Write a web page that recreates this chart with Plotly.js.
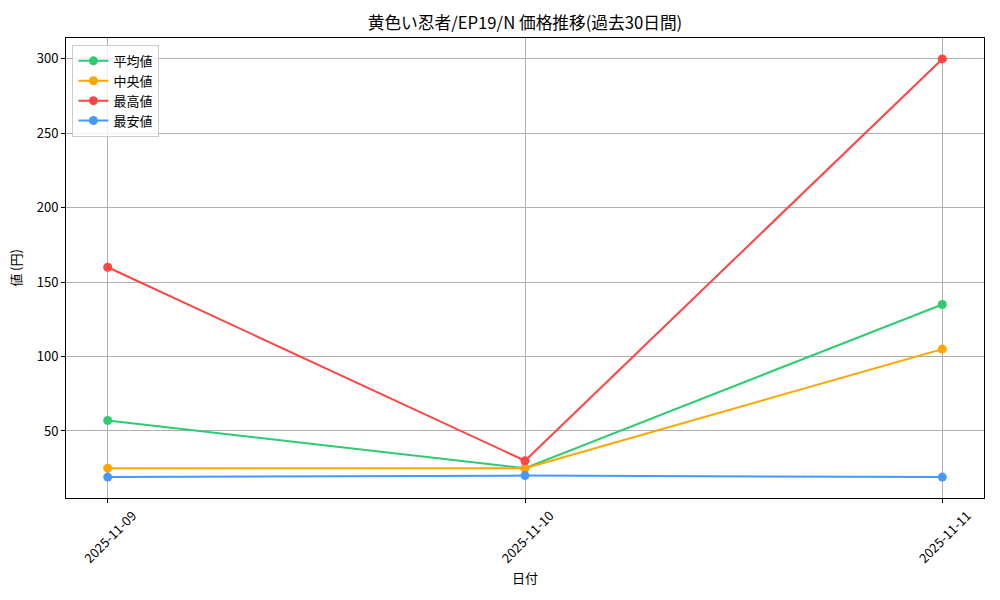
<!DOCTYPE html>
<html>
<head>
<meta charset="utf-8">
<script src="https://cdn.plot.ly/plotly-3.0.1.min.js"></script>
<style>html,body{margin:0;padding:0;background:#fff;}#chart{width:1000px;height:600px;}</style>
</head>
<body>
<div id="chart"></div>
<script>
// 日付ごとの価格データ
const dates = ["2025-11-09", "2025-11-10", "2025-11-11"];
const avgPrice = [57, 25, 135];
const medianPrice = [25, 25, 105];
const maxPrice = [160, 30, 300];
const minPrice = [19, 20, 19];

const seriesNames = ["平均値", "中央値", "最高値", "最安値"];
const seriesColors = ["#2ecc71", "#ffa500", "#ff4444", "#4499ff"];
const seriesValues = [avgPrice, medianPrice, maxPrice, minPrice];

const FONT = "'Noto Sans CJK JP', 'DejaVu Sans', sans-serif";

const traces = seriesValues.map((vals, i) => ({
  x: dates,
  y: vals,
  name: seriesNames[i],
  type: "scatter",
  mode: "lines+markers",
  line: {color: seriesColors[i], width: 2},
  marker: {color: seriesColors[i], size: 9}
}));

// 縦軸の範囲はデータ幅の5%の余白をとる
const allVals = seriesValues.flat();
const lo = Math.min(...allVals), hi = Math.max(...allVals);
const pad = (hi - lo) * 0.05;

const layout = {
  width: 1000,
  height: 600,
  paper_bgcolor: "#fff",
  plot_bgcolor: "#fff",
  margin: {l: 66, r: 16, t: 38, b: 102},
  font: {family: FONT, size: 13, color: "#000"},
  title: {
    text: "黄色い忍者/EP19/N 価格推移(過去30日間)",
    font: {family: FONT, size: 16.7, color: "#000"},
    x: 0.525, xanchor: "center", y: 0.962, yanchor: "middle"
  },
  xaxis: {
    type: "category",
    range: [-0.1, 2.1],
    showgrid: true, gridcolor: "#b0b0b0", gridwidth: 1,
    showline: true, linecolor: "#000", linewidth: 1, mirror: true,
    ticks: "outside", ticklen: 4, tickcolor: "#000",
    tickangle: -45,
    ticklabelshift: 25,
    ticklabelstandoff: 0,
    tickfont: {family: FONT, size: 13},
    zeroline: false,
    title: {text: "日付", font: {family: FONT, size: 13}, standoff: 8}
  },
  yaxis: {
    range: [lo - pad, hi + pad],
    tickvals: [50, 100, 150, 200, 250, 300],
    showgrid: true, gridcolor: "#b0b0b0", gridwidth: 1,
    showline: true, linecolor: "#000", linewidth: 1, mirror: true,
    ticks: "outside", ticklen: 4, tickcolor: "#000",
    tickfont: {family: FONT, size: 13},
    zeroline: false,
    title: {text: "値 (円)", font: {family: FONT, size: 13}, standoff: 12}
  },
  legend: {
    x: 0.007, y: 0.985, xanchor: "left", yanchor: "top",
    bgcolor: "rgba(255,255,255,0.8)",
    bordercolor: "#cccccc", borderwidth: 1,
    font: {family: FONT, size: 13},
    tracegroupgap: 0
  },
  showlegend: true
};

Plotly.newPlot("chart", traces, layout, {displayModeBar: false, staticPlot: true});
</script>
</body>
</html>
